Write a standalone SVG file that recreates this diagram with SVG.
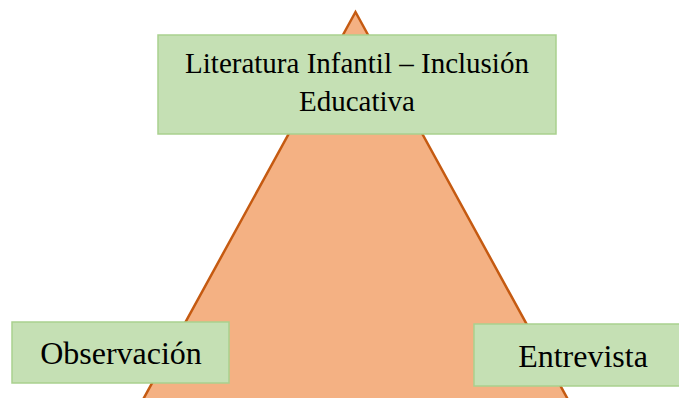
<svg xmlns="http://www.w3.org/2000/svg" width="679" height="398" viewBox="0 0 679 398">
<style>
.box{fill:#C5E0B4;stroke:#A9D18E;stroke-width:1.5}
.t{font-family:"Liberation Serif","Times New Roman",serif;fill:#000;text-anchor:middle}
</style>
<rect width="679" height="398" fill="#fff"/>
<g id="triangle">
<polygon points="355.5,12 134,416 577,416" fill="#F4B183" stroke="#C55A11" stroke-width="2.5" stroke-linejoin="miter"/>
</g>
<g id="connectors"></g>
<g id="top">
<rect class="box" x="158" y="35" width="398" height="99"/>
<text class="t" x="357" y="73" font-size="29">Literatura Infantil – Inclusión</text>
<text class="t" x="357" y="111" font-size="29">Educativa</text>
</g>
<g id="left">
<rect class="box" x="12" y="322" width="217" height="61"/>
<text class="t" x="121" y="364" font-size="32">Observación</text>
</g>
<g id="right">
<rect class="box" x="474" y="324" width="210" height="62"/>
<text class="t" x="583" y="367" font-size="32">Entrevista</text>
</g>
</svg>
